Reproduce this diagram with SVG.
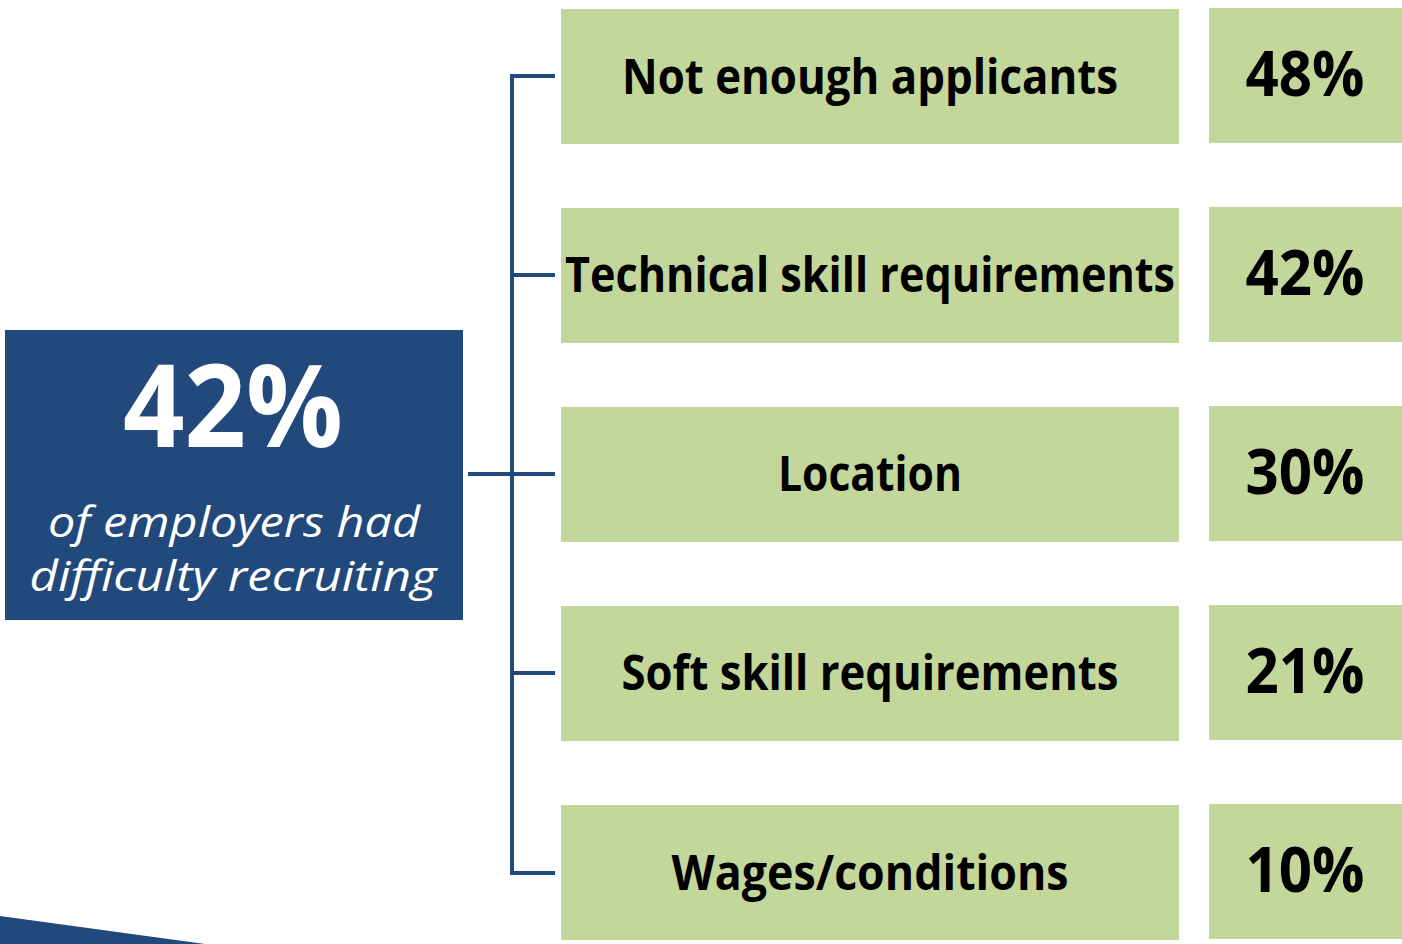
<svg xmlns="http://www.w3.org/2000/svg" width="1402" height="944" viewBox="0 0 1402 944">
<style>
.lbl{fill:#c4d79b}
.t{font-family:"Open Sans","Liberation Sans",sans-serif;font-weight:700;fill:#000;text-anchor:middle}
.lab{font-size:48px}
.pct{font-size:62px}
.conn{stroke:#22497b;stroke-width:4;fill:none}
.it{font-family:"Open Sans","Liberation Sans",sans-serif;font-style:italic;font-size:42px;fill:#fff;text-anchor:middle}
</style>
<rect width="1402" height="944" fill="#fff"/>
<polygon points="0,916 205,944 0,944" fill="#22497b"/>
<g id="main">
<rect x="5" y="330" width="458" height="290" fill="#22497b"/>
<text x="233" y="447" font-family="Open Sans,Liberation Sans,sans-serif" font-weight="700" font-size="114" fill="#fff" text-anchor="middle" textLength="220" lengthAdjust="spacingAndGlyphs">42%</text>
<text class="it" x="234" y="537" textLength="372" lengthAdjust="spacingAndGlyphs">of employers had</text>
<text class="it" x="233" y="591" textLength="407" lengthAdjust="spacingAndGlyphs">difficulty recruiting</text>
</g>
<g id="connectors">
<path class="conn" d="M555,76 H512 V873 H555"/>
<path class="conn" d="M512,275 H555 M512,673 H555 M468,474 H555"/>
</g>
<g id="r1">
<rect class="lbl" x="561" y="9" width="618" height="135"/>
<text class="t lab" x="870" y="94" textLength="496" lengthAdjust="spacingAndGlyphs">Not enough applicants</text>
</g>
<g id="p1">
<rect class="lbl" x="1209" y="8" width="193" height="135"/>
<text class="t pct" x="1305" y="96" textLength="119" lengthAdjust="spacingAndGlyphs">48%</text>
</g>
<g id="r2">
<rect class="lbl" x="561" y="208" width="618" height="135"/>
<text class="t lab" x="870" y="292" textLength="610" lengthAdjust="spacingAndGlyphs">Technical skill requirements</text>
</g>
<g id="p2">
<rect class="lbl" x="1209" y="207" width="193" height="135"/>
<text class="t pct" x="1305" y="295" textLength="119" lengthAdjust="spacingAndGlyphs">42%</text>
</g>
<g id="r3">
<rect class="lbl" x="561" y="407" width="618" height="135"/>
<text class="t lab" x="870" y="491" textLength="184" lengthAdjust="spacingAndGlyphs">Location</text>
</g>
<g id="p3">
<rect class="lbl" x="1209" y="406" width="193" height="135"/>
<text class="t pct" x="1305" y="494" textLength="119" lengthAdjust="spacingAndGlyphs">30%</text>
</g>
<g id="r4">
<rect class="lbl" x="561" y="606" width="618" height="135"/>
<text class="t lab" x="870" y="690" textLength="497" lengthAdjust="spacingAndGlyphs">Soft skill requirements</text>
</g>
<g id="p4">
<rect class="lbl" x="1209" y="605" width="193" height="135"/>
<text class="t pct" x="1305" y="693" textLength="119" lengthAdjust="spacingAndGlyphs">21%</text>
</g>
<g id="r5">
<rect class="lbl" x="561" y="805" width="618" height="135"/>
<text class="t lab" x="870" y="890" textLength="397" lengthAdjust="spacingAndGlyphs">Wages/conditions</text>
</g>
<g id="p5">
<rect class="lbl" x="1209" y="804" width="193" height="135"/>
<text class="t pct" x="1305" y="892" textLength="119" lengthAdjust="spacingAndGlyphs">10%</text>
</g>
</svg>
